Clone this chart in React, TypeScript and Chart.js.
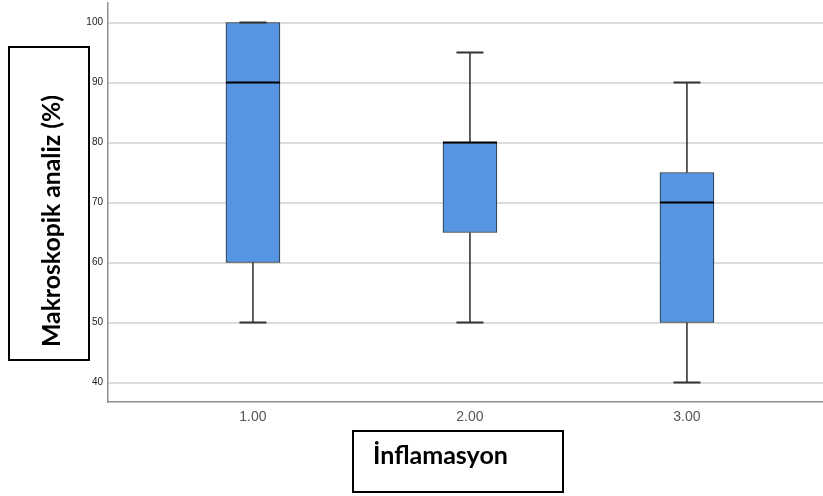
import React, { useEffect, useRef } from "react";
import { Chart, registerables } from "chart.js";

Chart.register(...registerables);

const categories = [1, 2, 3];
const tickLabels = ["1.00", "2.00", "3.00"];
const whiskerMin = [50, 50, 40];
const q1 = [60, 65, 50];
const median = [90, 80, 70];
const q3 = [100, 80, 75];
const whiskerMax = [100, 95, 90];
const yTicks = [40, 50, 60, 70, 80, 90, 100];

const yTitle = "Makroskopik analiz (%)";
const xTitle = "İnflamasyon";
const titleFamily = "Lato, 'Open Sans', sans-serif";

function fitBold(ctx: CanvasRenderingContext2D, text: string, target: number) {
  ctx.font = `bold 100px ${titleFamily}`;
  const w = ctx.measureText(text).width;
  const size = (100 * target) / w;
  ctx.font = `bold ${size}px ${titleFamily}`;
  return size;
}

const boxPlugin = {
  id: "boxWhisker",
  afterDatasetsDraw(chart: any) {
    const ctx = chart.ctx as CanvasRenderingContext2D;
    const meta = chart.getDatasetMeta(0);
    const ys = chart.scales.y;
    ctx.save();
    meta.data.forEach((bar: any, i: number) => {
      const cx = bar.x;
      const w = bar.width;
      const pMin = ys.getPixelForValue(whiskerMin[i]);
      const pMax = ys.getPixelForValue(whiskerMax[i]);
      const pQ1 = ys.getPixelForValue(q1[i]);
      const pQ3 = ys.getPixelForValue(q3[i]);
      const pMed = ys.getPixelForValue(median[i]);
      ctx.strokeStyle = "#2a2a2a";
      ctx.lineWidth = 1.5;
      ctx.beginPath();
      ctx.moveTo(cx, pQ3);
      ctx.lineTo(cx, pMax);
      ctx.moveTo(cx, pQ1);
      ctx.lineTo(cx, pMin);
      ctx.stroke();
      ctx.strokeStyle = "#333333";
      ctx.lineWidth = 2;
      ctx.beginPath();
      ctx.moveTo(cx - w / 4, pMax);
      ctx.lineTo(cx + w / 4, pMax);
      ctx.moveTo(cx - w / 4, pMin);
      ctx.lineTo(cx + w / 4, pMin);
      ctx.stroke();
      ctx.strokeStyle = "#000000";
      ctx.lineWidth = 2;
      ctx.beginPath();
      ctx.moveTo(cx - w / 2, pMed);
      ctx.lineTo(cx + w / 2, pMed);
      ctx.stroke();
    });
    ctx.restore();
  },
  afterDraw(chart: any) {
    const ctx = chart.ctx as CanvasRenderingContext2D;
    ctx.save();
    ctx.strokeStyle = "#000";
    ctx.lineWidth = 2;
    ctx.strokeRect(9, 47, 80, 313);
    ctx.strokeRect(353, 431, 210, 61);
    ctx.fillStyle = "#000";
    ctx.save();
    ctx.translate(60, 221);
    ctx.rotate(-Math.PI / 2);
    fitBold(ctx, yTitle, 252);
    ctx.textAlign = "center";
    ctx.textBaseline = "alphabetic";
    ctx.fillText(yTitle, 0, 0);
    ctx.restore();
    fitBold(ctx, xTitle, 135);
    ctx.textAlign = "left";
    ctx.textBaseline = "alphabetic";
    ctx.fillText(xTitle, 373, 464);
    ctx.restore();
  },
};

export default function App() {
  const ref = useRef<HTMLCanvasElement>(null);
  useEffect(() => {
    if (!ref.current) return;
    const chart = new Chart(ref.current, {
      type: "bar",
      data: {
        datasets: [
          {
            data: categories.map((c, i) => ({ x: c, y: [q1[i], q3[i]] })) as any,
            backgroundColor: "#5595e2",
            borderColor: "#2b2b2b",
            borderWidth: 1,
            borderSkipped: false,
            barThickness: 54,
          },
        ],
      },
      options: {
        responsive: false,
        animation: false,
        layout: { padding: { top: 3, left: 0, right: 0, bottom: 0 } },
        plugins: { legend: { display: false }, tooltip: { enabled: false } },
        scales: {
          x: {
            type: "linear",
            offset: false,
            min: 0.332,
            max: 3.627,
            afterBuildTicks: (s: any) => {
              s.ticks = categories.map((v) => ({ value: v }));
            },
            afterFit: (s: any) => {
              s.height = 94;
              s.paddingLeft = 0;
              s.paddingRight = 0;
            },
            ticks: {
              callback: (v: any) => tickLabels[categories.indexOf(Number(v))] ?? "",
              color: "#555",
              font: { family: "'Liberation Sans', Arial, sans-serif", size: 14 },
              padding: 7,
              autoSkip: false,
              maxRotation: 0,
            },
            grid: { display: false, drawTicks: false, offset: false },
            border: { display: true, color: "#8f8f8f", width: 1.5 },
          },
          y: {
            min: 36.75,
            max: 103.25,
            afterBuildTicks: (s: any) => {
              s.ticks = yTicks.map((v) => ({ value: v }));
            },
            afterFit: (s: any) => {
              s.width = 108;
              s.paddingTop = 0;
              s.paddingBottom = 0;
            },
            ticks: {
              color: "#222",
              font: { family: "'Liberation Sans', Arial, sans-serif", size: 10 },
              padding: 5,
            },
            grid: { color: "#dcdcdc", lineWidth: 2, drawTicks: false },
            border: { display: true, color: "#8f8f8f", width: 1.5 },
          },
        },
      },
      plugins: [boxPlugin],
    });
    return () => chart.destroy();
  }, []);
  return (
    <div style={{ position: "fixed", left: 0, top: 0, width: 823, height: 496, background: "#fff" }}>
      <canvas ref={ref} width={823} height={496} style={{ display: "block" }} />
    </div>
  );
}
